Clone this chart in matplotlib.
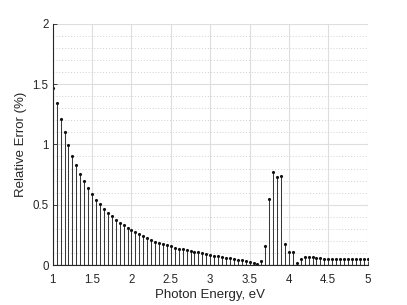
import numpy as np
import matplotlib
matplotlib.use("Agg")
from matplotlib import pyplot as plt
from matplotlib.ticker import MultipleLocator

# photon energy grid, 1 to 5 eV in 0.05 eV steps
energy = np.round(np.arange(1.0, 5.0001, 0.05), 2)

# relative error (%)
rel_err = [1.47, 1.34, 1.21, 1.10, 0.994, 0.906, 0.826, 0.757, 0.694, 0.641,
           0.588, 0.541, 0.503, 0.467, 0.433, 0.403, 0.375, 0.351, 0.329, 0.307,
           0.288, 0.271, 0.254, 0.238, 0.224, 0.208, 0.195, 0.183, 0.173, 0.163,
           0.155, 0.145, 0.137, 0.129, 0.122, 0.116, 0.110, 0.104, 0.097, 0.090,
           0.084, 0.077, 0.071, 0.066, 0.060, 0.055, 0.049, 0.044, 0.038, 0.032,
           0.026, 0.018, 0.010, 0.036, 0.155, 0.547, 0.771, 0.727, 0.738, 0.171,
           0.110, 0.110, 0.014, 0.050, 0.064, 0.064, 0.063, 0.058, 0.055, 0.052,
           0.050, 0.050, 0.050, 0.050, 0.050, 0.050, 0.050, 0.050, 0.050, 0.050,
           0.050]

xticks = [1, 1.5, 2, 2.5, 3, 3.5, 4, 4.5, 5]
yticks = [0, 0.5, 1, 1.5, 2]

plt.rcParams['font.family'] = ['Liberation Sans', 'DejaVu Sans']

fig = plt.figure(figsize=(4.07, 3.05), dpi=100)
ax = fig.add_axes([0.1295, 0.131, 0.7739, 0.7913])

markerline, stemlines, baseline = ax.stem(energy, rel_err, linefmt='-', markerfmt='.', basefmt='-')
plt.setp(stemlines, color='#383838', linewidth=0.75)
plt.setp(markerline, color='#101010', markersize=2.5)
plt.setp(baseline, color='#262626', linewidth=0.8)

ax.set_xlim(1, 5)
ax.set_ylim(0, 2)
ax.set_xticks(xticks)
ax.set_xticklabels([('%g' % t) for t in xticks])
ax.set_yticks(yticks)
ax.set_yticklabels([('%g' % t) for t in yticks])
ax.yaxis.set_minor_locator(MultipleLocator(0.1))

ax.grid(True, which='major', color='#dedede', linewidth=0.8)
ax.grid(True, which='minor', axis='y', color='#d0d0d0', linestyle=(0, (1, 2)), linewidth=0.7)
ax.set_axisbelow(True)

for s in ['top', 'right']:
  ax.spines[s].set_visible(False)
for s in ['left', 'bottom']:
  ax.spines[s].set_color('#262626')
  ax.spines[s].set_linewidth(0.8)

ax.tick_params(axis='both', which='major', direction='in', length=3, width=0.6,
               labelsize=8.3, colors='#262626', pad=3)
ax.tick_params(axis='x', which='major', pad=6.5)
ax.tick_params(axis='y', which='minor', length=0)

ax.set_xlabel('Photon Energy, eV', fontsize=9.5, color='#262626', labelpad=2)
ax.set_ylabel('Relative Error (%)', fontsize=9.5, color='#262626', labelpad=4)

fig.savefig('out.png', dpi=100)
